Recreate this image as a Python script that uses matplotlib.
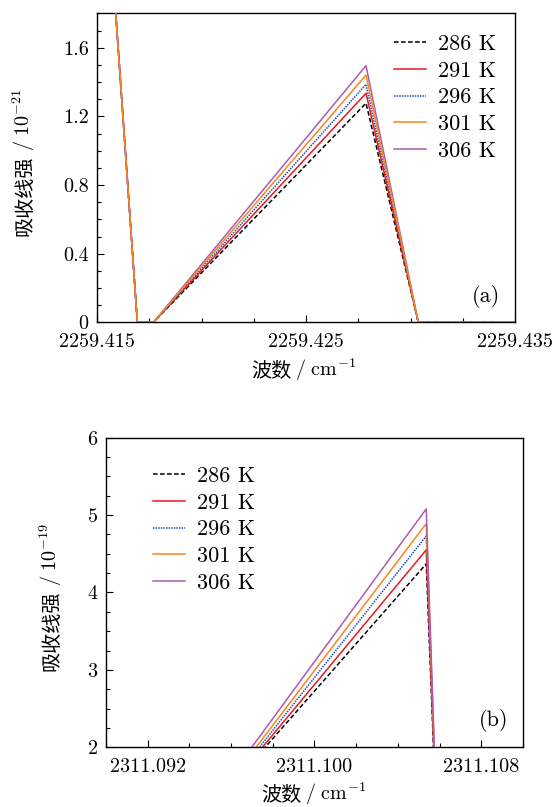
import matplotlib
matplotlib.use('Agg')
import matplotlib.pyplot as plt
from matplotlib.ticker import MultipleLocator, FixedLocator

plt.rcParams['font.family'] = ['cmr10', 'Noto Sans CJK SC', 'DejaVu Sans']
plt.rcParams['mathtext.fontset'] = 'cm'
plt.rcParams['axes.formatter.use_mathtext'] = True

labels = ['286 K', '291 K', '296 K', '301 K', '306 K']
colors = ['black', '#e8191f', '#1f4fb8', '#f7871c', '#ac5cad']
styles = [(0, (3, 1.6)), '-', (0, (1, 0.7)), '-', '-']

# panel (a): line near 2259.428 cm-1, values in 1e-21
xa_left = [2259.4150, 2259.41693]
ya_left = [3.36, 0.0]
xa_base0 = 2259.4177
xa_peak = 2259.42787
xa_end = 2259.43037
xa_right = 2259.4350
peak_a = [1.277, 1.335, 1.387, 1.441, 1.496]

# panel (b): line near 2311.105 cm-1, values in 1e-19
xb_start = [2311.09111, 2311.09134, 2311.09150, 2311.09155, 2311.09156]
xb_peak = 2311.10536
xb_end = 2311.1060
peak_b = [4.37, 4.55, 4.73, 4.89, 5.08]

W, H = 555, 807
fig = plt.figure(figsize=(W / 100, H / 100), dpi=100)
ax1 = fig.add_axes([0.1748, 0.6006, 0.7532, 0.3827])
ax2 = fig.add_axes([0.1910, 0.0740, 0.7513, 0.3836])

fs = 14.5
lfs = 16


def two_part(cjk, math, x, y, rot):
    # chinese part + mathtext part, x/y in pixels (y from bottom)
    t1 = fig.text(0, 0, cjk, fontsize=fs, rotation=rot, rotation_mode='anchor',
                  ha='left', va='baseline', family=['Noto Sans CJK SC'])
    t2 = fig.text(0, 0, math, fontsize=fs, rotation=rot, rotation_mode='anchor',
                  ha='left', va='baseline')
    r = fig.canvas.get_renderer()
    b1 = t1.get_window_extent(r)
    b2 = t2.get_window_extent(r)
    if rot == 90:
        l1, l2 = b1.height, b2.height
        start = y - (l1 + l2) / 2
        t1.set_position((x / W, start / H))
        t2.set_position((x / W, (start + l1) / H))
    else:
        l1, l2 = b1.width, b2.width
        start = x - (l1 + l2) / 2
        t1.set_position((start / W, y / H))
        t2.set_position(((start + l1) / W, y / H))


# %% panel (a)
handles = []
for i in range(5):
    xs = xa_left + [xa_base0, xa_peak, xa_end, xa_right]
    ys = ya_left + [0.0, peak_a[i], 0.0, 0.0]
    z = 3 if i == 3 else 2
    h, = ax1.plot(xs, ys, color=colors[i], linestyle=styles[i], lw=1.1,
                  label=labels[i], zorder=z)
    handles.append(h)

ax1.set_xlim(2259.415, 2259.435)
ax1.set_ylim(0, 1.8)
ax1.xaxis.set_major_locator(FixedLocator([2259.415, 2259.425, 2259.435]))
ax1.set_xticklabels(['2259.415', '2259.425', '2259.435'])
ax1.xaxis.set_minor_locator(MultipleLocator(0.0025))
ax1.yaxis.set_major_locator(FixedLocator([0, 0.4, 0.8, 1.2, 1.6]))
ax1.set_yticklabels(['0', '0.4', '0.8', '1.2', '1.6'])
ax1.yaxis.set_minor_locator(MultipleLocator(0.1))
ax1.legend(handles=handles, loc='upper left', frameon=False, fontsize=lfs,
           handlelength=1.45, handletextpad=0.55, labelspacing=0.32,
           borderpad=0, bbox_to_anchor=(0.684, 0.968))
ax1.text(0.965, 0.085, '(a)', transform=ax1.transAxes, ha='right', va='center',
         fontsize=lfs)

# %% panel (b)
for i in range(5):
    xs = [xb_start[i], xb_peak, xb_end]
    ys = [0.0, peak_b[i], 0.0]
    ax2.plot(xs, ys, color=colors[i], linestyle=styles[i], lw=1.1,
             label=labels[i])

ax2.set_xlim(2311.090, 2311.110)
ax2.set_ylim(2, 6)
ax2.xaxis.set_major_locator(FixedLocator([2311.092, 2311.100, 2311.108]))
ax2.set_xticklabels(['2311.092', '2311.100', '2311.108'])
ax2.xaxis.set_minor_locator(MultipleLocator(0.002))
ax2.yaxis.set_major_locator(FixedLocator([2, 3, 4, 5, 6]))
ax2.set_yticklabels(['2', '3', '4', '5', '6'])
ax2.yaxis.set_minor_locator(MultipleLocator(0.25))
ax2.legend(loc='upper left', frameon=False, fontsize=lfs,
           handlelength=1.45, handletextpad=0.55, labelspacing=0.32,
           borderpad=0, bbox_to_anchor=(0.086, 0.943))
ax2.text(0.965, 0.085, '(b)', transform=ax2.transAxes, ha='right', va='center',
         fontsize=lfs)

for ax in (ax1, ax2):
    ax.tick_params(which='both', direction='in', top=False, right=False,
                   labelsize=fs)
    ax.tick_params(axis='x', which='major', pad=7.5)
    ax.tick_params(axis='y', which='major', pad=6)
    ax.tick_params(which='major', length=5, width=0.8)
    ax.tick_params(which='minor', length=3, width=0.8)
    for sp in ax.spines.values():
        sp.set_linewidth(1.0)

# axis titles: chinese in CJK font, unit in mathtext
two_part('吸收线强', r'$\;/\;\mathrm{10}^{-21}$', 30, H - 162, 90)
two_part('波数', r'$\;/\;\mathrm{cm}^{-1}$', 304, H - 376, 0)
two_part('吸收线强', r'$\;/\;\mathrm{10}^{-19}$', 57, H - 597, 90)
two_part('波数', r'$\;/\;\mathrm{cm}^{-1}$', 314, H - 800, 0)

plt.savefig('out.png', dpi=100)
